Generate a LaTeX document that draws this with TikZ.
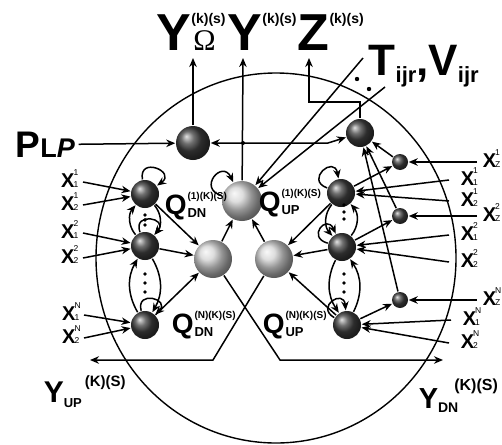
\documentclass[tikz,border=0pt]{standalone}
\usepackage{fontspec}
\setmainfont{Liberation Sans}
\newfontfamily\omegafont{Liberation Serif}
\usetikzlibrary{arrows.meta}
\newcommand{\fs}[1]{\fontsize{#1}{#1}\selectfont}
% X with upper and lower index
\newcommand{\xlab}[2]{X\kern-1pt\rlap{\raisebox{12pt}{\fs{8.5}\mdseries #1}}{\fs{8.5}\mdseries #2}}
% Q with (.)(K)(S) on top and DN/UP below
\newcommand{\qlab}[2]{Q\kern1pt\rlap{\raisebox{15pt}{\fs{10}#1}}\raisebox{-3pt}{\fs{13}#2}}
\newcommand{\topsup}[1]{\raisebox{27pt}{\fs{14}#1}}

\begin{document}
\begin{tikzpicture}[x=1pt,y=1pt,>={Stealth[length=9pt,width=7.5pt]},line width=1.5pt,font=\bfseries,
  dball/.style={circle,shading=ball,ball color=black!75,minimum size=#1,inner sep=0pt},
  lball/.style={circle,shading=ball,ball color=gray!35,minimum size=#1,inner sep=0pt},
  xl/.style={anchor=east,inner xsep=4pt,inner ysep=0pt,text height=13pt,text depth=3pt,font=\fs{20}\bfseries},
  xr/.style={xl,anchor=west,inner xsep=11pt},
  xz/.style={xl,anchor=west,inner xsep=5pt},
  ql/.style={anchor=base west,inner sep=0pt,font=\fs{28}\bfseries},
  txt/.style={anchor=base west,inner sep=0pt}]
\useasboundingbox (0,0) rectangle (502,-444);
\draw[line width=1.4pt] (276,-258) ellipse [x radius=180,y radius=185];

% spheres
\node[dball=34] (tl) at (193,-143) {};
\node[dball=28] (tr) at (360,-133) {};
\node[lball=40] (qu1) at (242,-201) {};
\node[lball=38] (qdn) at (213,-259) {};
\node[lball=38] (qup) at (274,-259) {};
\node[dball=28] (L1) at (145,-194) {};
\node[dball=28] (L2) at (145,-246) {};
\node[dball=28] (LN) at (145,-325) {};
\node[dball=28] (R1) at (341,-193) {};
\node[dball=28] (R2) at (342,-247) {};
\node[dball=28] (RN) at (347,-325) {};
\node[dball=16] (s1) at (400,-162) {};
\node[dball=16] (s2) at (400,-216) {};
\node[dball=16] (sN) at (400,-300) {};

% labels
\node[txt] (yomega) at (156,-50) {{\fs{52}Y}\rlap{\topsup{(k)(s)}}\kern2pt{\omegafont\mdseries\fs{30}Ω}};
\node[txt] (ytop) at (227,-50) {{\fs{52}Y}\topsup{(k)(s)}};
\node[txt] (ztop) at (297,-50) {{\fs{52}Z}\topsup{(k)(s)}};
\node[txt] (tv) at (368,-75) {{\fs{44}T}\raisebox{-7pt}{\fs{22}ijr}{\fs{44},V}\raisebox{-7pt}{\fs{22}ijr}};
\node[txt,inner sep=3pt] (plp) at (12,-157) {{\fs{37}P}{\fs{27}L\itshape P}};
\node[txt] (yup) at (43,-402) {{\fs{30}Y}\raisebox{-5pt}{\fs{13}UP}\kern3pt\raisebox{16pt}{\fs{15}(K)(S)}};
\node[txt] (ydn) at (418,-408) {{\fs{29}Y}\raisebox{-4pt}{\fs{14}DN}\kern-4pt\raisebox{18pt}{\fs{16}(K)(S)}};

\node[ql] (qdn1lab) at (164,-214) {\qlab{(1)(K)(S)}{DN}};
\node[ql] (qup1lab) at (258,-211) {\qlab{(1)(K)(S)}{UP}};
\node[ql] (qdnNlab) at (171,-333) {\qlab{(N)(K)(S)}{DN}};
\node[ql] (qupNlab) at (262,-333) {\qlab{(N)(K)(S)}{UP}};

\node[xl] (xl11) at (83,-182) {\xlab{1}{1}};
\node[xl] (xl21) at (83,-205) {\xlab{1}{2}};
\node[xl] (xl12) at (83,-233) {\xlab{2}{1}};
\node[xl] (xl22) at (83,-258) {\xlab{2}{2}};
\node[xl] (xl1N) at (84,-315) {\xlab{N}{1}};
\node[xl] (xl2N) at (84,-338) {\xlab{N}{2}};

\node[xz] (xz1) at (477,-162) {\xlab{1}{Z}};
\node[xr] (xr11) at (449,-180) {\xlab{1}{1}};
\node[xr] (xr21) at (449,-201) {\xlab{1}{2}};
\node[xz] (xz2) at (477,-216) {\xlab{2}{Z}};
\node[xr] (xr12) at (449,-235) {\xlab{2}{1}};
\node[xr] (xr22) at (449,-262) {\xlab{2}{2}};
\node[xz] (xzN) at (477,-300) {\xlab{N}{Z}};
\node[xr] (xr1N) at (451,-320) {\xlab{N}{1}};
\node[xr] (xr2N) at (449,-343) {\xlab{N}{2}};

% free ends and bends
\coordinate (yomtip) at (193,-58);
\coordinate (ytip) at (243,-58);
\coordinate (ztip) at (309,-58);
\coordinate (zc1) at (360,-102);
\coordinate (zc2) at (309,-102);
\coordinate (tlbend) at (328,-143);
\coordinate (jn) at (243,-143);
\coordinate (tv1) at (363,-58);
\coordinate (tv2) at (385,-87);
\coordinate (upc) at (213,-360);
\coordinate (uptip) at (90,-360);
\coordinate (dnc) at (280,-360);
\coordinate (dntip) at (443,-360);

% outputs on top
\draw[->] (plp.east) -- (tl);
\draw[->] (tl) -- (yomtip);
\draw[->] (qu1) -- (ytip);
\draw[->] (tr) -- (zc1) -- (zc2) -- (ztip);
\draw[<->] (tl) -- (tlbend) -- (tr);
\fill (jn) circle (2pt);
\draw[->] (tv1) -- (qu1);
\draw[->] (tv2) -- (qu1);
\fill (357,-79) circle (2.2pt) (369,-89) circle (2.2pt);

% left column
\draw[->] (xl11.east) -- (L1);
\draw[->] (xl21.east) -- (L1);
\draw[->] (xl12.east) -- (L2);
\draw[->] (xl22.east) -- (L2);
\draw[->] (xl1N.east) -- (LN);
\draw[->] (xl2N.east) -- (LN);
\draw[->] (L1) to[out=100,in=35,distance=24pt] (L1);
\draw[->] (L2) to[out=110,in=50,distance=22pt] (L2);
\draw[->] (LN) to[out=105,in=45,distance=22pt] (LN);
\draw[->] (L2) to[bend left=40] (L1);
\draw[->] (L1) to[bend left=40] (L2);
\draw[->] (LN) to[bend left=30] (L2);
\draw[->] (L2) to[bend left=30] (LN);
\foreach \y in {215,220,225,274,283,292} \fill (145,-\y) circle (1.8pt);
\draw[->] (L1) -- (qdn);
\draw[->] (L2) -- (qdn);
\draw[->] (LN) -- (qdn);

% middle
\draw[->] (qu1) to[out=165,in=115,distance=26pt] (qu1);
\draw[->] (qdn) -- (qu1);
\draw[->] (qup) -- (qu1);
\draw[->] (qup) -- (upc) -- (uptip);
\draw[->] (qdn) -- (dnc) -- (dntip);

% right column
\draw[->] (xz1.west) -- (s1);
\draw[->] (xz2.west) -- (s2);
\draw[->] (xzN.west) -- (sN);
\draw[->] (xr11.west) -- (R1);
\draw[->] (xr21.west) -- (R1);
\draw[->] (xr12.west) -- (R2);
\draw[->] (xr22.west) -- (R2);
\draw[->] (xr1N.west) -- (RN);
\draw[->] (xr2N.west) -- (RN);
\draw[->] (R1) to[out=160,in=100,distance=24pt] (R1);
\draw[->] (R2) to[out=165,in=115,distance=22pt] (R2);
\draw[->] (RN) to[out=150,in=95,distance=22pt] (RN);
\draw[->] (R2) to[bend right=40] (R1);
\draw[->] (R1) to[bend right=40] (R2);
\draw[->] (RN) to[bend right=30] (R2);
\draw[->] (R2) to[bend right=30] (RN);
\foreach \y in {205,212,219,274,283,292} \fill (344,-\y) circle (1.8pt);
\draw[->] (R1) -- (qup);
\draw[->] (R2) -- (qup);
\draw[->] (RN) -- (qup);
\draw[->] (R1) -- (s1);
\draw[->] (R2) -- (s2);
\draw[->] (RN) -- (sN);
\draw[->] (s1) -- (tr);
\draw[->] (s2) -- (tr);
\draw[->] (sN) -- (tr);
\end{tikzpicture}
\end{document}
